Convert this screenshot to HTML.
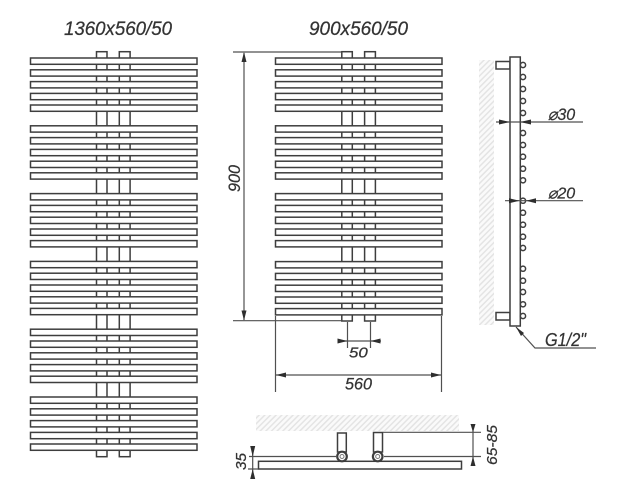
<!DOCTYPE html>
<html>
<head>
<meta charset="utf-8">
<style>
html,body{margin:0;padding:0;background:#fff;width:620px;height:495px;overflow:hidden}
svg{display:block;filter:blur(0.3px)}
text{font-family:"Liberation Sans",sans-serif;font-style:italic;fill:#333;stroke:#333;stroke-width:.25}
</style>
</head>
<body>
<svg width="620" height="495" viewBox="0 0 620 495" xmlns="http://www.w3.org/2000/svg">
<defs>
<pattern id="h" width="4" height="4" patternUnits="userSpaceOnUse" patternTransform="rotate(45)">
<rect width="4" height="4" fill="#fafafa"/><rect width="1.5" height="4" fill="#e4e4e4"/>
</pattern>
<g id="grp" fill="#fff" stroke="#3e3e3e" stroke-width="1.5">
<rect x="0" y="0" width="166.5" height="6.3"/>
<rect x="0" y="11.8" width="166.5" height="6.3"/>
<rect x="0" y="23.6" width="166.5" height="6.3"/>
<rect x="0" y="35.4" width="166.5" height="6.3"/>
<rect x="0" y="47" width="166.5" height="6.3"/>
</g>
</defs>
<rect width="620" height="495" fill="#fff"/>

<!-- left radiator -->
<g fill="#fff" stroke="#3e3e3e" stroke-width="1.5">
<rect x="96.5" y="51.7" width="10.5" height="405"/>
<rect x="119.3" y="51.7" width="10.8" height="405"/>
</g>
<use href="#grp" x="30.5" y="58"/>
<use href="#grp" x="30.5" y="125.8"/>
<use href="#grp" x="30.5" y="193.6"/>
<use href="#grp" x="30.5" y="261.4"/>
<use href="#grp" x="30.5" y="329.2"/>
<use href="#grp" x="30.5" y="397"/>

<!-- middle radiator -->
<g fill="#fff" stroke="#3e3e3e" stroke-width="1.5">
<rect x="341.8" y="51.7" width="10.5" height="269.3"/>
<rect x="364.6" y="51.7" width="10.8" height="269.3"/>
</g>
<use href="#grp" x="275.5" y="58"/>
<use href="#grp" x="275.5" y="125.8"/>
<use href="#grp" x="275.5" y="193.6"/>
<use href="#grp" x="275.5" y="261.6"/>

<!-- dimensions middle -->
<g fill="none" stroke="#505050" stroke-width="1.2">
<path d="M233 52H341M233 320.7H341M244 53V320"/>
<path d="M347.5 322V348M370.5 322V348M338 341H381"/>
<path d="M275.5 316V392M441.5 316V392M276 375H441"/>
</g>
<path d="M244 52L241.5 62H246.5Z M244 320.5L241.5 310.5H246.5Z M347.5 341L337.5 338.5V343.5Z M370.5 341L380.5 338.5V343.5Z M276 375L286 372.5V377.5Z M441 375L431 372.5V377.5Z" fill="#2e2e2e"/>

<!-- side view -->
<rect x="479" y="60" width="15" height="265" fill="url(#h)"/>
<g fill="#fff" stroke="#3e3e3e" stroke-width="1.5">
<rect x="496" y="61.5" width="14" height="7.5"/>
<rect x="496" y="312.5" width="14" height="7.5"/>
<rect x="510" y="57" width="10.3" height="269"/>
</g>
<g fill="#fff" stroke="#3e3e3e" stroke-width="1.5">
<circle cx="523" cy="65" r="2.6"/><circle cx="523" cy="77" r="2.6"/><circle cx="523" cy="89" r="2.6"/><circle cx="523" cy="101" r="2.6"/><circle cx="523" cy="113" r="2.6"/>
<circle cx="523" cy="133" r="2.6"/><circle cx="523" cy="145" r="2.6"/><circle cx="523" cy="156.7" r="2.6"/><circle cx="523" cy="168.7" r="2.6"/><circle cx="523" cy="180.3" r="2.6"/>
<circle cx="523" cy="200.7" r="2.6"/><circle cx="523" cy="212.7" r="2.6"/><circle cx="523" cy="224.7" r="2.6"/><circle cx="523" cy="236.7" r="2.6"/><circle cx="523" cy="248" r="2.6"/>
<circle cx="523" cy="268.7" r="2.6"/><circle cx="523" cy="280.7" r="2.6"/><circle cx="523" cy="292" r="2.6"/><circle cx="523" cy="304.3" r="2.6"/><circle cx="523" cy="316" r="2.6"/>
</g>
<g fill="none" stroke="#505050" stroke-width="1.2">
<path d="M496 122H583M505 200.7H583M516 327L535 348H596"/>
</g>
<path d="M510 122L499 119.5V124.5Z M520 122L531 119.5V124.5Z M519.5 200.7L509 198.2V203.2Z M526 200.7L536 198.2V203.2Z M516 327L524 333L521 336Z" fill="#2e2e2e"/>

<!-- bottom view -->
<rect x="256" y="415" width="203" height="16" fill="url(#h)"/>
<g fill="#fff" stroke="#3e3e3e" stroke-width="1.5">
<rect x="337.5" y="433" width="8.8" height="19"/>
<rect x="373.5" y="432.5" width="9" height="19.5"/>
<rect x="258.5" y="461.3" width="203" height="7.7"/>
</g>
<g fill="none" stroke="#3e3e3e">
<circle cx="342" cy="456.5" r="4.8" fill="#fff" stroke-width="2.2"/>
<circle cx="342" cy="456.5" r="2" fill="#fff" stroke="#777" stroke-width="1"/>
<circle cx="377.7" cy="456.5" r="4.8" fill="#fff" stroke-width="2.2"/>
<circle cx="377.7" cy="456.5" r="2" fill="#fff" stroke="#777" stroke-width="1"/>
</g>
<g fill="none" stroke="#505050" stroke-width="1.2">
<path d="M249 456.5H336M384 456.5H481M383 432.3H481M473 424V466M252.7 446V479M248 469H258"/>
</g>
<path d="M473 432.3L470.5 424H475.5Z M473 456.5L470.5 466H475.5Z M252.7 456.5L250.2 446H255.2Z M252.7 469L250.2 479H255.2Z" fill="#2e2e2e"/>

<!-- labels -->
<text x="64" y="35" font-size="19" textLength="108" lengthAdjust="spacingAndGlyphs">1360x560/50</text>
<text x="309" y="35" font-size="19" textLength="99" lengthAdjust="spacingAndGlyphs">900x560/50</text>
<text transform="translate(240 192) rotate(-90)" font-size="17" textLength="27" lengthAdjust="spacingAndGlyphs">900</text>
<text x="349" y="357.5" font-size="15" textLength="18.7" lengthAdjust="spacingAndGlyphs">50</text>
<text x="345" y="389.3" font-size="17" textLength="27" lengthAdjust="spacingAndGlyphs">560</text>
<text x="547.7" y="120" font-size="17" textLength="27.5" lengthAdjust="spacingAndGlyphs">⌀30</text>
<text x="547.7" y="198.5" font-size="16" textLength="27.5" lengthAdjust="spacingAndGlyphs">⌀20</text>
<text x="545" y="346" font-size="18" textLength="41" lengthAdjust="spacingAndGlyphs">G1/2"</text>
<text transform="translate(246 470) rotate(-90)" font-size="15" textLength="17" lengthAdjust="spacingAndGlyphs">35</text>
<text transform="translate(497 465) rotate(-90)" font-size="15" textLength="40" lengthAdjust="spacingAndGlyphs">65-85</text>
</svg>
</body>
</html>
